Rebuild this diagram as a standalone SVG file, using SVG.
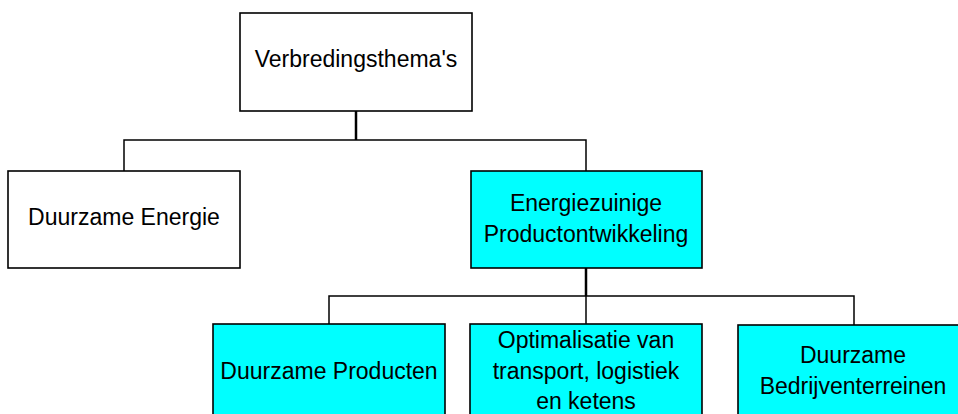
<svg xmlns="http://www.w3.org/2000/svg" width="958" height="414" viewBox="0 0 958 414">
<style>
.box{stroke:#000;stroke-width:1.6}
.w{fill:#fff}
.c{fill:#00ffff}
text{font-family:"Liberation Sans",Arial,sans-serif;font-size:23px;fill:#000;text-anchor:middle}
.thin{stroke:#000;stroke-width:1.5;fill:none}
.thick{stroke:#000;stroke-width:2.5;fill:none}
</style>
<rect width="958" height="414" fill="#fff"/>
<g id="connectors">
<line class="thick" x1="356" y1="111" x2="356" y2="140"/>
<polyline class="thin" points="124,171 124,140 586,140 586,171"/>
<line class="thick" x1="586" y1="268" x2="586" y2="296"/>
<polyline class="thin" points="329,324 329,296 854,296 854,325"/>
<line class="thin" x1="586" y1="296" x2="586" y2="324"/>
</g>
<g id="n-root">
<rect class="box w" x="240" y="13" width="232" height="98"/>
<text x="356" y="67">Verbredingsthema's</text>
</g>
<g id="n-energie">
<rect class="box w" x="8" y="171" width="232" height="97"/>
<text x="124" y="225">Duurzame Energie</text>
</g>
<g id="n-product">
<rect class="box c" x="471" y="171" width="231" height="97"/>
<text x="586" y="211">Energiezuinige</text>
<text x="586" y="242">Productontwikkeling</text>
</g>
<g id="n-producten">
<rect class="box c" x="213" y="324" width="232" height="100"/>
<text x="329" y="379">Duurzame Producten</text>
</g>
<g id="n-transport">
<rect class="box c" x="470" y="324" width="232" height="100"/>
<text x="586" y="348">Optimalisatie van</text>
<text x="586" y="379">transport, logistiek</text>
<text x="586" y="409">en ketens</text>
</g>
<g id="n-bedrijven">
<rect class="box c" x="738" y="325" width="232" height="100"/>
<text x="853" y="363">Duurzame</text>
<text x="853" y="394">Bedrijventerreinen</text>
</g>
</svg>
